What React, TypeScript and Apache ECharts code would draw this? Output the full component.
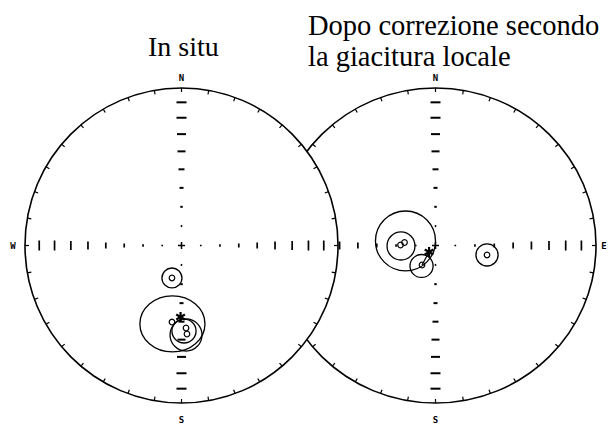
import React, { useEffect, useRef } from "react";
import * as echarts from "echarts";

// ---------- texts ----------
const TITLE_LEFT = "In situ";
const TITLE_RIGHT = "Dopo correzione secondo\nla giacitura locale";
const NET_LABELS = ["N", "S", "W", "E"];

// ---------- net graduation (equal-area net) ----------
const TICK_INCLINATIONS = [10, 20, 30, 40, 50, 60, 70, 80];
const AZIMUTH_TICKS = [0, 10, 20, 30, 40, 50, 60, 70, 80, 90, 100, 110, 120, 130, 140, 150, 160, 170, 180, 190, 200, 210, 220, 230, 240, 250, 260, 270, 280, 290, 300, 310, 320, 330, 340, 350];

// ---------- data: projected coordinates (east, north), unit = primitive radius ----------
// confidence circles: [x, y, radiusX, radiusY]
const LEFT_CONF = [
  [-0.061, -0.206, 0.064, 0.063],
  [-0.058, -0.498, 0.208, 0.178],
  [0.029, -0.568, 0.102, 0.102],
  [0.016, -0.543, 0.077, 0.076],
];
const LEFT_MEANS = [
  [-0.061, -0.206],
  [-0.061, -0.486],
  [0.029, -0.524],
  [0.035, -0.562],
];
const LEFT_STAR = [[-0.006, -0.454]];

const RIGHT_CONF = [
  [-0.187, 0.029, 0.187, 0.19],
  [-0.215, -0.003, 0.087, 0.089],
  [-0.087, -0.13, 0.072, 0.073],
  [0.321, -0.06, 0.069, 0.07],
];
const RIGHT_MEANS = [
  [-0.218, 0.003],
  [-0.193, 0.019],
  [-0.084, -0.124],
  [0.321, -0.06],
];
const RIGHT_STAR = [[-0.04, -0.041]];
const RIGHT_LINK = [[-0.084, -0.124, -0.04, -0.041]];

// ---------- styles ----------
const TICK_LEN: Record<number, number> = { 10: 10, 20: 10, 30: 9, 40: 8, 50: 6, 60: 4, 70: 2.5, 80: 1.5 };
const INK = "#000";

const proj = (inc: number) => Math.SQRT2 * Math.sin(((90 - inc) / 2) * (Math.PI / 180));

const axisTickData = () => {
  const out: number[][] = [];
  TICK_INCLINATIONS.forEach((inc) => {
    const r = proj(inc);
    out.push([r, 0, 0, inc], [-r, 0, 0, inc], [0, r, 1, inc], [0, -r, 1, inc]);
  });
  return out;
};

const azData = AZIMUTH_TICKS.map((a) => [Math.sin((a * Math.PI) / 180), Math.cos((a * Math.PI) / 180), a]);

export default function App() {
  const ref = useRef<HTMLDivElement>(null);
  useEffect(() => {
    if (!ref.current) return;
    const chart = echarts.init(ref.current, undefined, { renderer: "svg" });

    const ellipseItem = (lw: number, fill: string) => (_p: any, api: any) => {
      const c = api.coord([api.value(0), api.value(1)]);
      const s = api.size([api.value(2), api.value(3)]);
      return {
        type: "ellipse",
        shape: { cx: c[0], cy: c[1], rx: s[0], ry: s[1] },
        style: { fill, stroke: INK, lineWidth: lw },
      };
    };
    const meanItem = (_p: any, api: any) => {
      const c = api.coord([api.value(0), api.value(1)]);
      return { type: "circle", shape: { cx: c[0], cy: c[1], r: 2.8 }, style: { fill: "none", stroke: INK, lineWidth: 1.2 } };
    };
    const starItem = (_p: any, api: any) => {
      const c = api.coord([api.value(0), api.value(1)]);
      const L = 5;
      const children = [90, 30, 150].map((deg) => {
        const dx = L * Math.cos((deg * Math.PI) / 180);
        const dy = L * Math.sin((deg * Math.PI) / 180);
        return { type: "line", shape: { x1: c[0] - dx, y1: c[1] - dy, x2: c[0] + dx, y2: c[1] + dy }, style: { stroke: INK, lineWidth: 2.2 } };
      });
      return { type: "group", children };
    };
    const linkItem = (_p: any, api: any) => {
      const a = api.coord([api.value(0), api.value(1)]);
      const b = api.coord([api.value(2), api.value(3)]);
      return { type: "line", shape: { x1: a[0], y1: a[1], x2: b[0], y2: b[1] }, style: { stroke: INK, lineWidth: 1.2 } };
    };
    const tickItem = (_p: any, api: any) => {
      const c = api.coord([api.value(0), api.value(1)]);
      const len = TICK_LEN[api.value(3)] || 2;
      const vertical = api.value(2) === 0;
      const h = len / 2;
      return {
        type: "line",
        shape: vertical ? { x1: c[0], y1: c[1] - h, x2: c[0], y2: c[1] + h } : { x1: c[0] - h, y1: c[1], x2: c[0] + h, y2: c[1] },
        style: { stroke: INK, lineWidth: vertical ? 1.7 : 2 },
      };
    };
    const azItem = (_p: any, api: any) => {
      const p = api.coord([api.value(0), api.value(1)]);
      const o = api.coord([0, 0]);
      const dx = o[0] - p[0];
      const dy = o[1] - p[1];
      const d = Math.hypot(dx, dy) || 1;
      return { type: "line", shape: { x1: p[0], y1: p[1], x2: p[0] + (dx / d) * 4, y2: p[1] + (dy / d) * 4 }, style: { stroke: INK, lineWidth: 1.2 } };
    };
    const crossItem = (_p: any, api: any) => {
      const c = api.coord([api.value(0), api.value(1)]);
      return {
        type: "group",
        children: [
          { type: "line", shape: { x1: c[0] - 3.5, y1: c[1], x2: c[0] + 3.5, y2: c[1] }, style: { stroke: INK, lineWidth: 1.5 } },
          { type: "line", shape: { x1: c[0], y1: c[1] - 3.5, x2: c[0], y2: c[1] + 3.5 }, style: { stroke: INK, lineWidth: 1.5 } },
        ],
      };
    };
    const labelOffsets: Record<number, [number, number]> = { 0: [0, -10], 1: [0, 17], 2: [-12, 0], 3: [8, 0] };
    const labelItem = (_p: any, api: any) => {
      const c = api.coord([api.value(0), api.value(1)]);
      const idx = api.value(2);
      const off = labelOffsets[idx];
      return {
        type: "text",
        x: c[0] + off[0],
        y: c[1] + off[1],
        style: {
          text: NET_LABELS[idx],
          fill: INK,
          font: "bold 9px 'DejaVu Sans Mono'",
          align: "center",
          verticalAlign: "middle",
        },
      };
    };

    const plot = (gi: number, z: number, primFill: string, conf: number[][], means: number[][], star: number[][], link: number[][], labels: number[][]) => {
      const base = { type: "custom", coordinateSystem: "cartesian2d", xAxisIndex: gi, yAxisIndex: gi, clip: false, silent: true };
      return [
        { ...base, z, renderItem: ellipseItem(1.6, primFill), data: [[0, 0, 1, 1]] },
        { ...base, z: z + 1, renderItem: azItem, data: azData },
        { ...base, z: z + 1, renderItem: tickItem, data: axisTickData() },
        { ...base, z: z + 1, renderItem: crossItem, data: [[0, 0]] },
        { ...base, z: z + 1, renderItem: labelItem, data: labels },
        { ...base, z: z + 1, renderItem: ellipseItem(1.3, "none"), data: conf },
        { ...base, z: z + 1, renderItem: linkItem, data: link },
        { ...base, z: z + 1, renderItem: meanItem, data: means },
        { ...base, z: z + 1, renderItem: starItem, data: star },
      ];
    };

    const axis = (gi: number) => ({ gridIndex: gi, type: "value", min: -1, max: 1, show: false });

    chart.setOption({
      animation: false,
      backgroundColor: "#fff",
      title: [
        { text: TITLE_LEFT, left: 143, top: 27, textStyle: { fontFamily: "Liberation Serif", fontWeight: "normal", fontSize: 28, color: INK } },
        { text: TITLE_RIGHT, left: 303, top: 5, textStyle: { fontFamily: "Liberation Serif", fontWeight: "normal", fontSize: 28.5, lineHeight: 31, color: INK } },
      ],
      grid: [
        { left: 25, top: 88, width: 313, height: 315 },
        { left: 275, top: 88, width: 321, height: 315 },
      ],
      xAxis: [axis(0), axis(1)],
      yAxis: [axis(0), axis(1)],
      series: [
        ...plot(1, 2, "none", RIGHT_CONF, RIGHT_MEANS, RIGHT_STAR, RIGHT_LINK, [[0, 1, 0], [0, -1, 1], [1, 0, 3]]),
        ...plot(0, 10, "#fff", LEFT_CONF, LEFT_MEANS, LEFT_STAR, [], [[0, 1, 0], [0, -1, 1], [-1, 0, 2]]),
      ],
    });
    return () => chart.dispose();
  }, []);
  return <div ref={ref} style={{ width: 608, height: 424, position: "absolute", left: 0, top: 0 }} />;
}
